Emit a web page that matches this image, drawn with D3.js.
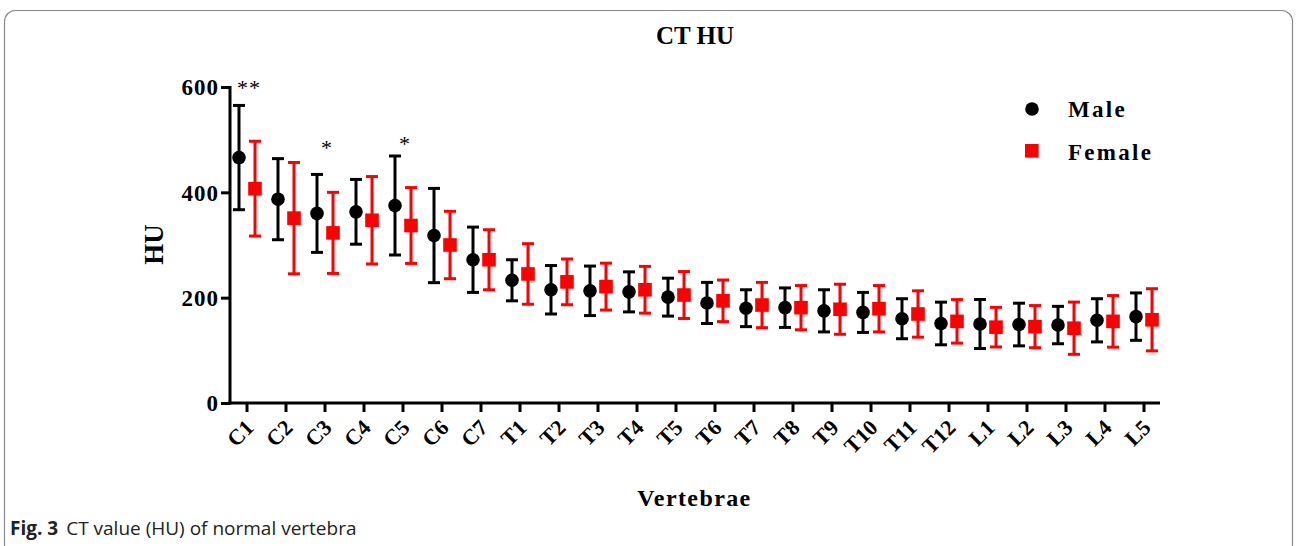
<!DOCTYPE html>
<html>
<head>
<meta charset="utf-8">
<script src="https://cdn.jsdelivr.net/npm/d3@7"></script>
<style>
  html, body { margin: 0; padding: 0; background: #fff; }
  svg { display: block; }
  .serif { font-family: "Liberation Serif", "Times New Roman", serif; font-weight: bold; }
</style>
</head>
<body>
<svg id="chart" width="1296" height="546"></svg>
<script>
const categories = ["C1","C2","C3","C4","C5","C6","C7","T1","T2","T3","T4","T5","T6","T7","T8","T9","T10","T11","T12","L1","L2","L3","L4","L5"];
const maleMean = [466,387,360,363,375,318,272,233,215,213,211,201,190,180,181,175,172,160,151,150,149,148,157,164];
const maleSD   = [99,77,74,61.5,94,89.5,62,39,46,47,38,36,39,35,37.5,40,38,38,40.5,46.5,40.5,35.5,41,45];
const femaleMean = [407,351,323,347,337,300,272,245,230,221,215,205,194,186,181,178,179,169,155,144,145,142,155,158];
const femaleSD   = [90,105.7,77,83,72,64,57,57.5,43.4,44.5,44.4,44.6,39.5,43,42,47.5,44,44,41.3,37.6,40,49.6,49,59];
const yTicks = [0,200,400,600];
const sigCategories = ["C1","C3","C5"];
const sigLabels = ["**","*","*"];
const sigValues = [585,470,478];
const seriesNames = ["Male","Female"];
const seriesColors = ["#000000","#ff0000"];

const svg = d3.select("#chart");

// frame
svg.append("rect").attr("x",4.5).attr("y",10.5).attr("width",1288).attr("height",545)
  .attr("rx",11).attr("fill","none").attr("stroke","#8a8a8a").attr("stroke-width",1.2);

const x = d3.scaleBand().domain(categories).range([227.5,1163.5]).padding(0);
const y = d3.scaleLinear().domain([0,600]).range([403,87]);
const off = 8;

// axes
const xAxis = svg.append("g").attr("transform","translate(0,403)")
  .call(d3.axisBottom(x).tickSize(9).tickFormat(""));
xAxis.select(".domain").attr("stroke","#000").attr("stroke-width",3).attr("d","M228,0H1160");
xAxis.selectAll(".tick line").attr("stroke","#000").attr("stroke-width",3);

const yAxis = svg.append("g").attr("transform","translate(230,0)")
  .call(d3.axisLeft(y).tickValues(yTicks).tickSize(9).tickFormat(d3.format("d")));
yAxis.select(".domain").attr("stroke","#000").attr("stroke-width",3).attr("d","M0,86V404.5");
yAxis.selectAll(".tick line").attr("stroke","#000").attr("stroke-width",3);
yAxis.selectAll(".tick text").attr("class","serif").attr("font-size",23)
  .attr("letter-spacing","1px").attr("x",-11).attr("dy","0.34em").attr("fill","#000");

// x labels
svg.append("g").selectAll("text").data(categories).join("text")
  .attr("class","serif").attr("font-size",22)
  .attr("text-anchor","end")
  .attr("transform", d => `translate(${x(d)+x.bandwidth()/2+8},429) rotate(-45)`)
  .text(d => d);

// error bars + markers
function drawSeries(means, sds, dx, color, shape) {
  const g = svg.append("g");
  const data = categories.map((c,i) => ({c, m: means[i], s: sds[i]}));
  const cx = d => x(d.c) + x.bandwidth()/2 + dx;
  g.selectAll(".v").data(data).join("line")
    .attr("x1",cx).attr("x2",cx).attr("y1",d=>y(d.m+d.s)).attr("y2",d=>y(d.m-d.s))
    .attr("stroke",color).attr("stroke-width",3);
  ["top","bot"].forEach(k => {
    g.selectAll(".c"+k).data(data).join("line")
      .attr("x1",d=>cx(d)-6).attr("x2",d=>cx(d)+6)
      .attr("y1",d=>y(k==="top"?d.m+d.s:d.m-d.s)).attr("y2",d=>y(k==="top"?d.m+d.s:d.m-d.s))
      .attr("stroke",color).attr("stroke-width",3);
  });
  if (shape === "circle") {
    g.selectAll("circle").data(data).join("circle")
      .attr("cx",cx).attr("cy",d=>y(d.m)).attr("r",6.8).attr("fill",color);
  } else {
    g.selectAll("rect").data(data).join("rect")
      .attr("x",d=>cx(d)-6.8).attr("y",d=>y(d.m)-6.8).attr("width",13.6).attr("height",13.6).attr("fill",color);
  }
}
drawSeries(maleMean, maleSD, -off, seriesColors[0], "circle");
drawSeries(femaleMean, femaleSD, off, seriesColors[1], "square");

// significance marks
svg.append("g").selectAll("text").data(sigCategories).join("text")
  .attr("font-family","Liberation Serif, serif").attr("font-size",22)
  .attr("text-anchor","middle").attr("letter-spacing","1px")
  .attr("x", d => x(d)+x.bandwidth()/2+2)
  .attr("y", (d,i) => y(sigValues[i]))
  .text((d,i) => sigLabels[i]);

// title
svg.append("text").attr("class","serif").attr("font-size",25).attr("text-anchor","middle")
  .attr("x",695).attr("y",44).text("CT HU");

// axis titles
svg.append("text").attr("class","serif").attr("font-size",24).attr("letter-spacing","1.4px")
  .attr("text-anchor","middle").attr("x",694.5).attr("y",506).text("Vertebrae");
svg.append("text").attr("class","serif").attr("font-size",27).attr("text-anchor","middle")
  .attr("transform","translate(163,244.5) rotate(-90)").text("HU");

// legend
const leg = svg.append("g");
leg.append("circle").attr("cx",1032).attr("cy",109).attr("r",6.8).attr("fill",seriesColors[0]);
leg.append("rect").attr("x",1025).attr("y",144).attr("width",13.6).attr("height",13.6).attr("fill",seriesColors[1]);
leg.selectAll("text").data(seriesNames).join("text").attr("class","serif")
  .attr("font-size",23).attr("letter-spacing","2.3px")
  .attr("x",1068).attr("y",(d,i)=>117+i*42.5).text(d=>d);

// caption
const cap = svg.append("text").attr("x",10).attr("y",535)
  .attr("font-family","Open Sans, Noto Sans, sans-serif").attr("font-size",19).attr("fill","#222");
cap.append("tspan").attr("font-weight","bold").text("Fig. 3");
cap.append("tspan").attr("dx",8).text("CT value (HU) of normal vertebra");
</script>
</body>
</html>
